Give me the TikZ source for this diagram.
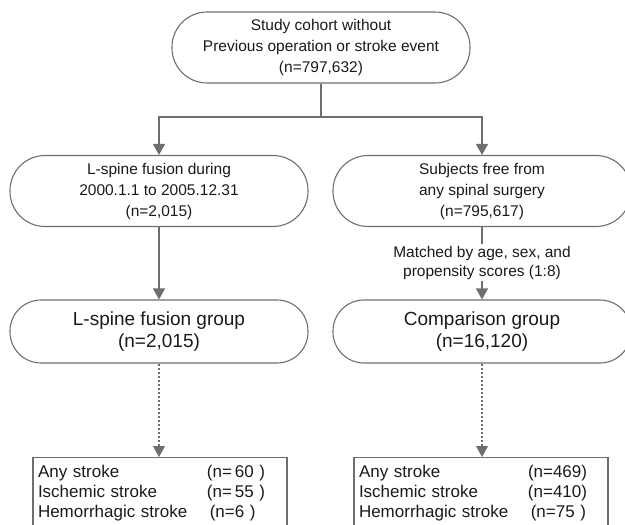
\documentclass[tikz,border=0pt]{standalone}
\usepackage{fontspec}
\setmainfont{Liberation Sans}
\usetikzlibrary{arrows.meta}
\definecolor{linegray}{HTML}{6E6E6E}
\definecolor{textblack}{HTML}{1A1A1A}
\tikzset{
  stadium/.style={draw=linegray, line width=1.1pt, rounded corners=35pt,
    minimum width=298pt, minimum height=71pt, align=center, text=textblack,
    font=\fontsize{15.5}{21}\selectfont},
  groupbox/.style={stadium, minimum height=63pt, rounded corners=31pt,
    font=\fontsize{19}{22.5}\selectfont},
  resultbox/.style={draw=linegray, line width=1.1pt, text=textblack, anchor=north,
    text width=244pt, inner xsep=5pt, inner ysep=8pt, align=left,
    font=\fontsize{17}{20}\selectfont},
  lbl/.style={text=textblack, align=center, inner sep=2pt,
    font=\fontsize{15.5}{19}\selectfont},
  conn/.style={draw=linegray, line width=1.1pt},
  arr/.style={conn, -{Triangle[width=12pt,length=11pt]}},
  dotarr/.style={arr, dash pattern=on 2pt off 2pt}
}
\newcommand{\rowitem}[2]{\makebox[169pt][l]{#1}#2}
\begin{document}
\begin{tikzpicture}[x=1pt,y=-1pt]
\useasboundingbox (0,0) rectangle (625,525);
\clip (0,0) rectangle (625,525);

\node[stadium] (top) at (321,47.5) {Study cohort without\\Previous operation or stroke event\\(n=797,632)};
\node[stadium] (ls) at (159,191) {L-spine fusion during\\2000.1.1 to 2005.12.31\\(n=2,015)};
\node[stadium] (rs) at (482,191) {Subjects free from\\any spinal surgery\\(n=795,617)};
\node[lbl] (match) at (482,262.5) {Matched by age, sex, and\\propensity scores (1:8)};
\node[groupbox] (lg) at (159,331.5) {L-spine fusion group\\(n=2,015)};
\node[groupbox] (rg) at (482,331.5) {Comparison group\\(n=16,120)};

\node[resultbox] (lr) at (160,457) {\rowitem{Any stroke}{(n=\,60\,\,)}\\
\rowitem{Ischemic stroke}{(n=\,55\,\,)}\\
\rowitem{Hemorrhagic stroke}{\,(n=6\,\,)}\rule[-14pt]{0pt}{0pt}};
\node[resultbox] (rr) at (481,457) {\rowitem{Any stroke}{(n=469)}\\
\rowitem{Ischemic stroke}{(n=410)}\\
\rowitem{Hemorrhagic stroke}{\,(n=75\,\,)}\rule[-14pt]{0pt}{0pt}};

\coordinate (split) at (top.south |- 0,117);
\draw[conn] (top.south) -- (split);
\draw[arr] (split) -| (ls.north);
\draw[arr] (split) -| (rs.north);
\draw[arr] (ls.south) -- (lg.north);
\draw[conn] (rs.south) -- (match.north);
\draw[arr] (match.south) -- (rg.north);
\draw[dotarr] (lg.south) -- (lg.south |- lr.north);
\draw[dotarr] (rg.south) -- (rg.south |- rr.north);
\end{tikzpicture}
\end{document}
